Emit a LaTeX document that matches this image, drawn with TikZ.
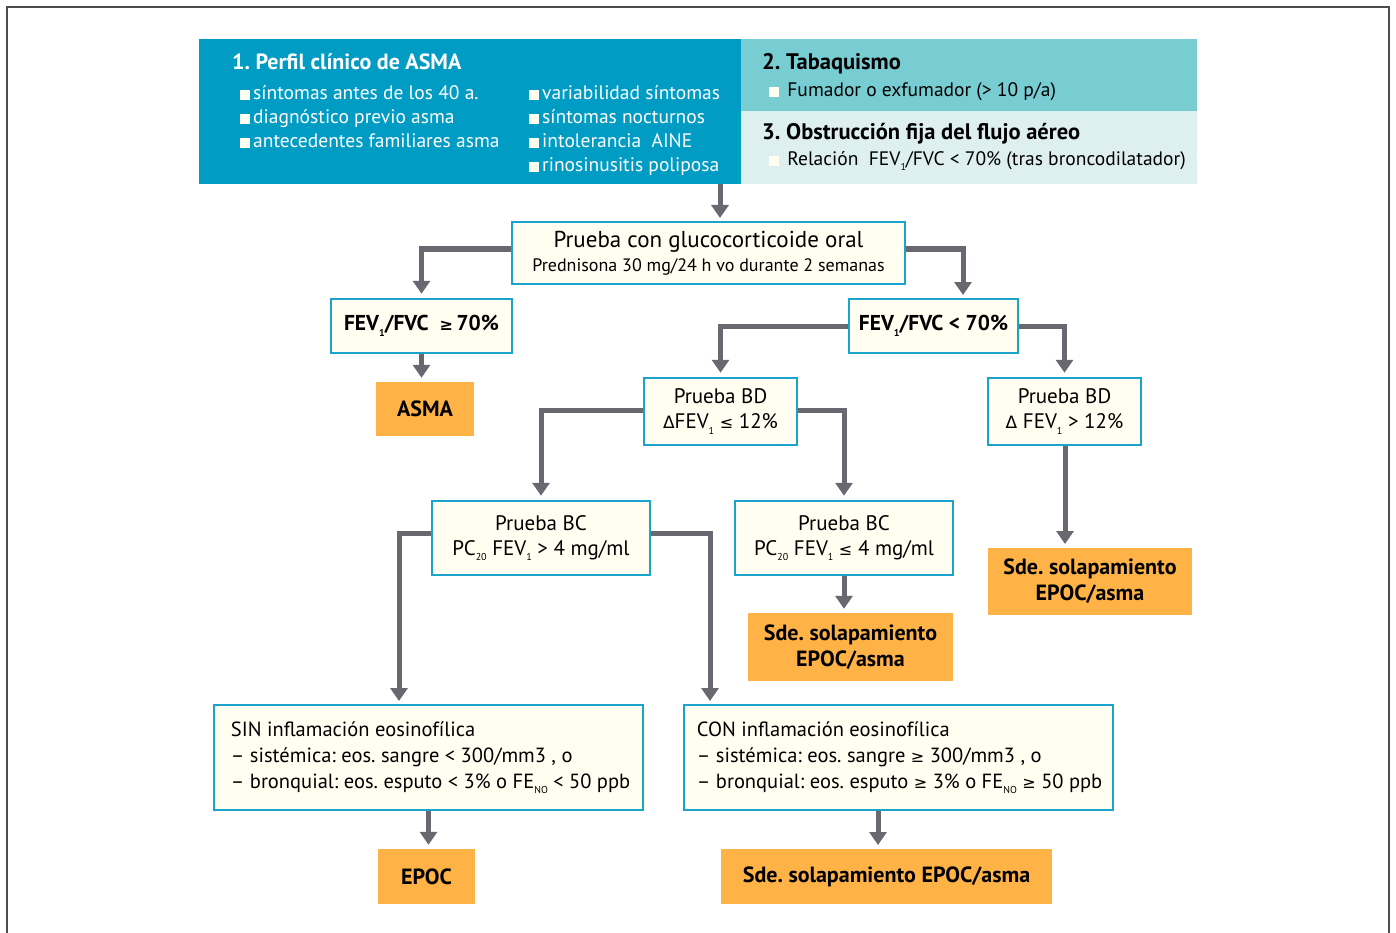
\documentclass[tikz,border=0pt]{standalone}
\usepackage{fontspec}
\setmainfont{PT Sans}
\newfontfamily\symf{DejaVu Sans}
\usetikzlibrary{arrows.meta,positioning}
\definecolor{hdrblue}{RGB}{0,156,196}
\definecolor{hdrteal}{RGB}{120,205,210}
\definecolor{hdrpale}{RGB}{221,240,239}
\definecolor{boxline}{RGB}{26,163,204}
\definecolor{boxfill}{RGB}{255,254,240}
\definecolor{resfill}{RGB}{255,179,71}
\definecolor{arrgray}{RGB}{104,104,112}
\frenchspacing
\newcommand{\lsub}[1]{\raisebox{-0.5ex}{\fontsize{10}{10}\selectfont #1}}
\newcommand{\gsym}{{\symf\fontsize{16}{16}\selectfont ≥}}
\newcommand{\lsym}{{\symf\fontsize{16}{16}\selectfont ≤}}
\newcommand{\dsym}{{\symf\fontsize{17}{17}\selectfont Δ}}
\newcommand{\bul}{\textcolor{boxfill}{\rule{10pt}{10pt}}\hspace{3pt}}

\begin{document}
\begin{tikzpicture}[x=1pt,y=-1pt,>={Triangle[width=17pt,length=13pt]},
    arr/.style={->,draw=arrgray,line width=5pt,line join=miter,shorten >=4pt},
    hdr/.style={inner sep=0pt,minimum width=#1},
    txt/.style={anchor=base west,inner sep=0pt,font=\fontsize{19.5}{24}\selectfont},
    ttl/.style={txt,font=\bfseries\fontsize{22.5}{24}\selectfont},
    box/.style={draw=boxline,line width=2.5pt,fill=boxfill,inner sep=0pt,align=center,
      font=\fontsize{21}{25}\selectfont},
    note/.style={anchor=west,xshift=#1,inner sep=0pt,align=left,font=\fontsize{20.5}{26}\selectfont},
    res/.style={fill=resfill,inner sep=0pt,align=center,font=\bfseries\fontsize{22}{26}\selectfont}]

  \useasboundingbox (0,0) rectangle (1396,933);
  \draw[black!70,line width=1.5pt] (7,945) -- (7,7) -- (1389,7) -- (1389,945);

  \node[hdr=542,minimum height=145,fill=hdrblue] (perfil) at (470,111.5) {};
  \node[hdr=456,minimum height=72,fill=hdrteal] (tabaco) at (969,75) {};
  \node[hdr=456,minimum height=73,fill=hdrpale] (obstr) at (969,147.5) {};

  \node[ttl,text=white,font=\bfseries\fontsize{22}{24}\selectfont] (t1) at (232,70) {1. Perfil clínico de ASMA};
  \foreach \line [count=\i] in {síntomas antes de los 40 a.,diagnóstico previo asma,antecedentes familiares asma}
    \node[txt,text=white] (p\i) at (240,76+24*\i) {\bul\line};
  \foreach \line [count=\i] in {variabilidad síntomas,síntomas nocturnos,intolerancia\ \ AINE,rinosinusitis poliposa}
    \node[txt,text=white] (q\i) at (529,76+24*\i) {\bul\line};

  \node[ttl] (t2) at (762,70) {2. Tabaquismo};
  \node[txt] (f2) at (769,97) {\bul\ Fumador o exfumador (> 10 p/a)};
  \node[ttl] (t3) at (762,140) {3. Obstrucción fija del flujo aéreo};
  \node[txt] (f3) at (769,166) {\bul\ Relación\ \ FEV\lsub{1}/FVC < 70\% (tras broncodilatador)};

  \node[box,minimum width=393,minimum height=62] (glu) at (708.5,253)
    {{\fontsize{23}{25}\selectfont Prueba con glucocorticoide oral}\\[-1pt]
     {\fontsize{18}{20}\selectfont Prednisona 30 mg/24 h vo durante 2 semanas}};
  \node[box,minimum width=181,minimum height=54,font=\bfseries\fontsize{21.5}{25}\selectfont] (fevA) at (421.5,326)
    {FEV\lsub{1}/FVC\ \ \gsym\,70\%};
  \node[res,minimum width=98,minimum height=54] (asma) at (425,409) {ASMA};
  \node[box,minimum width=169,minimum height=54,font=\bfseries\fontsize{21.5}{25}\selectfont] (fevB) at (933.5,326)
    {FEV\lsub{1}/FVC < 70\%};
  \node[box,minimum width=153,minimum height=67] (bdA) at (720.5,411.5) {Prueba BD\\\dsym FEV\lsub{1} \lsym\ 12\%};
  \node[box,minimum width=153,minimum height=67] (bdB) at (1064.5,411.5) {Prueba BD\\\dsym\ FEV\lsub{1} > 12\%};
  \node[res,minimum width=204,minimum height=67] (solB) at (1090,581.5) {Sde. solapamiento\\EPOC/asma};
  \node[box,minimum width=218,minimum height=74] (bcA) at (541,538) {Prueba BC\\PC\lsub{20} FEV\lsub{1} > 4 mg/ml};
  \node[box,minimum width=218,minimum height=74] (bcB) at (844,538) {Prueba BC\\PC\lsub{20} FEV\lsub{1} \lsym\ 4 mg/ml};
  \node[res,minimum width=205,minimum height=68] (solC) at (850.5,647) {Sde. solapamiento\\EPOC/asma};
  \node[box,minimum width=429,minimum height=105,label={[note=18pt]west:SIN inflamación eosinofílica\\
     – sistémica: eos. sangre < 300/mm3 , o\\
     – bronquial: eos. esputo < 3\% o FE\lsub{NO} < 50 ppb}] (sin) at (428.5,757.5) {};
  \node[box,minimum width=429,minimum height=105,label={[note=14pt]west:CON inflamación eosinofílica\\
     – sistémica: eos. sangre \gsym\ 300/mm3 , o\\
     – bronquial: eos. esputo \gsym\ 3\% o FE\lsub{NO} \gsym\ 50 ppb}] (con) at (898.5,757.5) {};
  \node[res,minimum width=97,minimum height=55] (epoc) at (426.5,876.5) {EPOC};
  \node[res,minimum width=331,minimum height=55] (solD) at (886.5,876.5) {Sde. solapamiento EPOC/asma};

  \coordinate (gluin) at (720,222);
  \coordinate (fevBin) at (963,299);
  \coordinate (solBin) at (1065,548);
  \coordinate (sinin) at (399,705);
  \coordinate (conin) at (710,705);
  \coordinate (solDin) at (878,849);

  \draw[arr] (perfil.south -| gluin) -- (gluin);
  \draw[arr] ([yshift=4pt]glu.west) -| (fevA.north);
  \draw[arr] ([yshift=4pt]glu.east) -| (fevBin);
  \draw[arr] (fevA.south) -- (fevA.south |- asma.north);
  \draw[arr] (fevB.west) -| (bdA.north);
  \draw[arr] (fevB.east) -| (bdB.north);
  \draw[arr] (bdB.south -| solBin) -- (solBin);
  \draw[arr] ([yshift=1.5pt]bdA.west) -| (bcA.north);
  \draw[arr] ([yshift=1.5pt]bdA.east) -| (bcB.north);
  \draw[arr] ([yshift=5pt]bcA.west) -| (sinin);
  \draw[arr] ([yshift=5pt]bcA.east) -| (conin);
  \draw[arr] (bcB.south) -- (bcB.south |- solC.north);
  \draw[arr] (sin.south) -- (sin.south |- epoc.north);
  \draw[arr] (con.south -| solDin) -- (solDin);
\end{tikzpicture}
\end{document}
